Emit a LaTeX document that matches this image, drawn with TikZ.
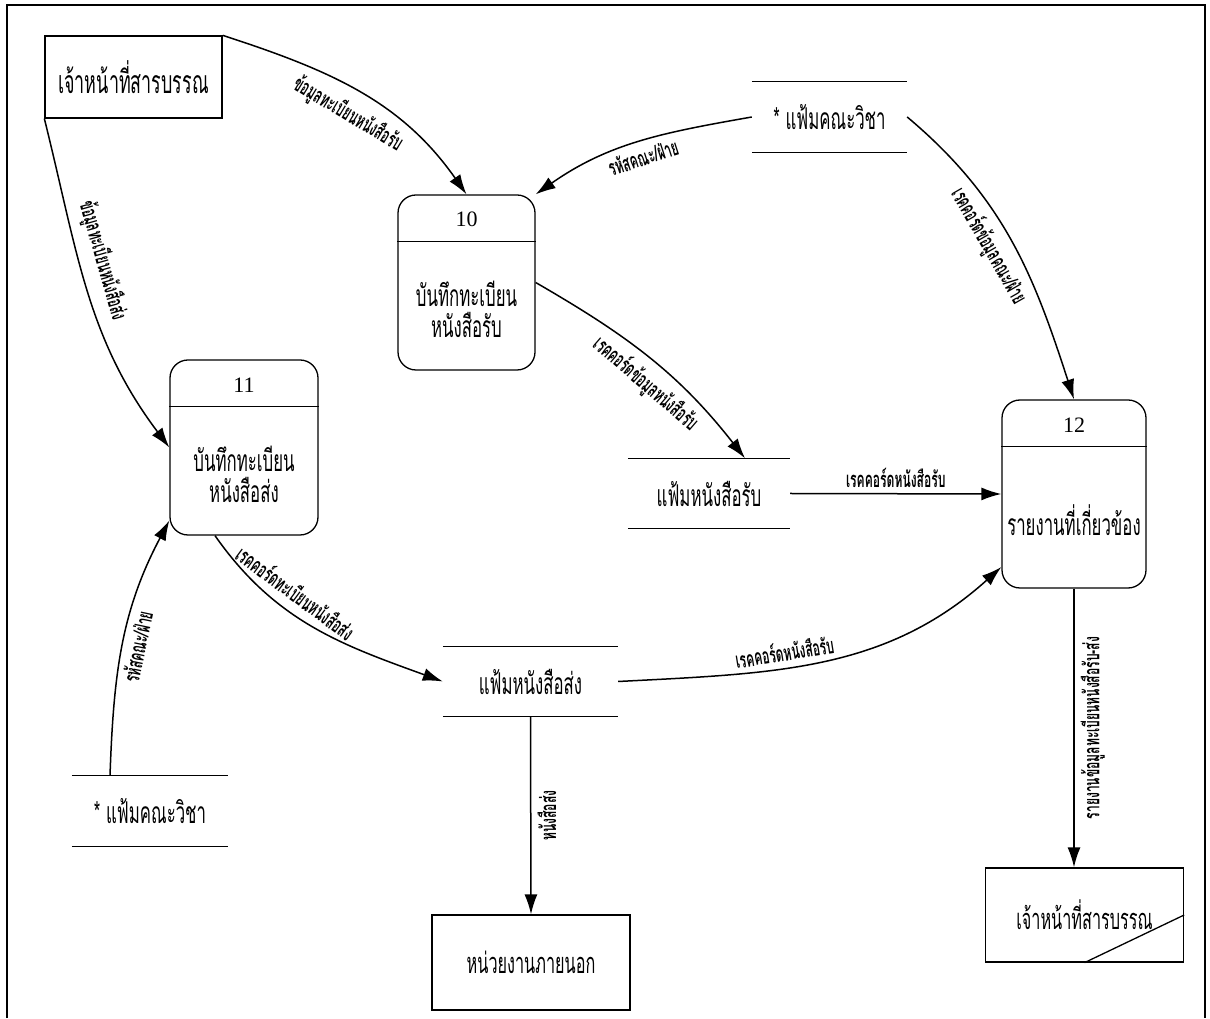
\documentclass[tikz,border=0pt]{standalone}
\usepackage{fontspec}
\newfontfamily\thai[Script=Thai,FakeStretch=0.56]{Loma}
\newfontfamily\thailbl[Script=Thai,FakeStretch=0.55]{Loma}
\newfontfamily\numfont{Liberation Serif}
\usetikzlibrary{arrows.meta,calc}

\tikzset{
  entity/.style={draw, line width=1.3pt, inner sep=0pt, font=\thai\fontsize{29}{33}\selectfont},
  process/.style={draw, line width=1.3pt, rounded corners=18pt, inner sep=0pt},
  store/.style={inner sep=0pt, minimum height=70pt, font=\thai\fontsize{30}{34}\selectfont},
  numtxt/.style={font=\numfont\fontsize{22}{26}\selectfont},
  bodytxt/.style={align=center, font=\thai\fontsize{30}{31}\selectfont},
  flow/.style={line width=1.5pt, -{Latex[length=20pt,width=13pt]}},
  flowlbl/.style={font=\thailbl\bfseries\fontsize{22}{24}\selectfont, inner sep=2pt, sloped},
}

\begin{document}
\begin{tikzpicture}[x=1pt,y=1pt]
    \useasboundingbox (0,0) rectangle (1210,1018);
    \draw[line width=2.5pt] (7,0) -- (7,1013) -- (1205,1013) -- (1205,0);

    % external entities
    \node[entity, minimum width=177pt, minimum height=82pt, font=\thai\fontsize{32}{36}\selectfont] (ent1) at (133.5,941) {เจ้าหน้าที่สารบรรณ};
    \node[entity, minimum width=198pt, minimum height=95pt] (extorg) at (531,55.5) {หน่วยงานภายนอก};
    \node[entity, minimum width=198pt, minimum height=94pt] (clerk2) at (1084.5,103) {เจ้าหน้าที่สารบรรณ};
    \draw[line width=1.3pt] (clerk2.south) -- (clerk2.east);

    % processes
    \node[process, minimum width=137pt, minimum height=175pt] (p10) at (466.5,735.5) {};
    \node[process, minimum width=148pt, minimum height=175pt] (p11) at (244,570.5) {};
    \node[process, minimum width=144pt, minimum height=188pt] (p12) at (1074,524) {};
    \foreach \p in {p10,p11,p12}
        \draw[line width=1.3pt] ([yshift=-47pt]\p.north west) -- ([yshift=-47pt]\p.north east);
    \node[numtxt] (p10num) at ([yshift=-25pt]p10.north) {10};
    \node[numtxt] (p11num) at ([yshift=-26pt]p11.north) {11};
    \node[numtxt] (p12num) at ([yshift=-26pt]p12.north) {12};
    \node[bodytxt] (p10txt) at ([yshift=-27pt]p10.center) {บันทึกทะเบียน\\หนังสือรับ};
    \node[bodytxt] (p11txt) at ([yshift=-27pt]p11.center) {บันทึกทะเบียน\\หนังสือส่ง};
    \node[bodytxt] (p12txt) at ([yshift=-26pt]p12.center) {รายงานที่เกี่ยวข้อง};

    % data stores
    \node[store, minimum width=155pt] (sfac1) at (829.5,901) {* แฟ้มคณะวิชา};
    \node[store, minimum width=162pt] (srecv) at (709,524.5) {แฟ้มหนังสือรับ};
    \node[store, minimum width=175pt] (ssend) at (530.5,336.5) {แฟ้มหนังสือส่ง};
    \node[store, minimum width=156pt] (sfac2) at (150,207) {* แฟ้มคณะวิชา};
    \foreach \s in {sfac1,srecv,ssend,sfac2}
        \draw[line width=1.3pt] (\s.north west) -- (\s.north east) (\s.south west) -- (\s.south east);

    % data flows
    \draw[flow] (ent1.north east) to[out=-18,in=125]
        node[flowlbl,below=10pt,pos=0.5] {ข้อมูลทะเบียนหนังสือรับ} (p10.north);
    \draw[flow] (ent1.south west) to[out=-76,in=127]
        node[flowlbl,above=8pt,pos=0.42] {ข้อมูลทะเบียนหนังสือส่ง} (p11.west);
    \draw[flow] (sfac1.west) to[out=190,in=35]
        node[flowlbl,below=4pt,pos=0.5] {รหัสคณะ/ฝ่าย} (p10.north east);
    \draw[flow] (sfac1.east) to[out=-40,in=108]
        node[flowlbl,below=7pt,pos=0.47] {เรคคอร์ดข้อมูลคณะ/ฝ่าย} (p12.north);
    \draw[flow] (p10.east) to[out=-30,in=128]
        node[flowlbl,below=7pt,pos=0.55] {เรคคอร์ดข้อมูลหนังสือรับ} ([xshift=36pt]srecv.north);
    \draw[flow] (srecv.east) -- node[flowlbl,above=3pt] {เรคคอร์ดหนังสือรับ} (p12.west);
    \draw[flow] ([xshift=-29pt]p11.south) to[out=-55,in=160]
        node[flowlbl,above=7pt,pos=0.36] {เรคคอร์ดทะเบียนหนังสือส่ง} (ssend.west);
    \draw[flow] ([xshift=-40pt]sfac2.north) to[out=88,in=-118]
        node[flowlbl,below=3pt,pos=0.5] {รหัสคณะ/ฝ่าย} ([yshift=-73pt]p11.west);
    \draw[flow] (ssend.east) to[out=3,in=-138]
        node[flowlbl,above=4pt,pos=0.4] {เรคคอร์ดหนังสือรับ} ([yshift=-73pt]p12.west);
    \draw[flow] (ssend.south) -- node[flowlbl,sloped=false,rotate=90,anchor=north,yshift=-4pt] {หนังสือส่ง} (extorg.north);
    \draw[flow] (p12.south) -- node[flowlbl,sloped=false,rotate=90,anchor=north,yshift=-4pt] {รายงานข้อมูลทะเบียนหนังสือรับ-ส่ง} (p12.south |- clerk2.north);
\end{tikzpicture}
\end{document}
